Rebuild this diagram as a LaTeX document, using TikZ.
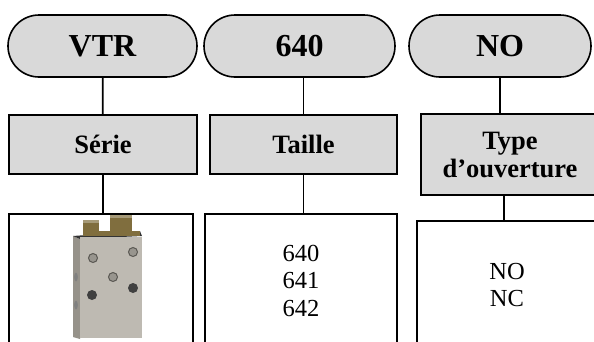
\documentclass[tikz,border=0pt]{standalone}
\usepackage{fontspec}
\setmainfont{Liberation Serif}
\usetikzlibrary{positioning,calc}
\definecolor{boxgray}{RGB}{217,217,217}
\definecolor{steel}{RGB}{190,186,178}
\definecolor{steelside}{RGB}{150,146,138}
\definecolor{brass}{RGB}{128,110,62}
\tikzset{
  pill/.style={draw, line width=1.6pt, fill=boxgray, rounded corners=31pt, minimum height=62pt, font=\fontsize{32}{35}\selectfont\bfseries},
  head/.style={draw, line width=1.6pt, fill=boxgray, minimum height=59pt, align=center, font=\fontsize{26.5}{28}\selectfont\bfseries},
  list/.style={draw, line width=1.6pt, anchor=north, align=center, minimum height=134pt, font=\fontsize{24.5}{27.5}\selectfont},
  link/.style={line width=1.8pt}
}
\begin{document}
\begin{tikzpicture}[x=1pt, y=-1pt]
    \useasboundingbox (0,0) rectangle (594,341);
    \clip (0,0) rectangle (594,341);
    \node[pill, minimum width=189pt] (vtr) at (102.5,46) {VTR};
    \node[pill, minimum width=191pt] (size) at (299.5,46) {640};
    \node[pill, minimum width=182pt] (open) at (500,46) {NO};
    \node[head, minimum width=188pt] (serie) at (103,144.5) {Série};
    \node[head, minimum width=187pt] (taille) at (303.5,144.5) {Taille};
    \node[head, minimum width=178pt, minimum height=81pt] (typ) at (510,154.5) {Type\\d’ouverture};
    \node[list, minimum width=184pt] (photo) at (101,213) {};
    \node[list, minimum width=192pt] (sizes) at (301,213) {640\\641\\642};
    \node[list, minimum width=180pt, minimum height=128pt] (states) at (507,220) {NO\\NC};
    \coordinate (drop) at ([xshift=-6pt]typ.south);
    \draw[link] (vtr) -- (serie);
    \draw[link] (serie) -- (serie |- photo.north);
    \draw[link] (taille |- size.south) -- (taille.north);
    \draw[link] (taille) -- (taille |- sizes.north);
    \draw[link] (open) -- (open |- typ.north);
    \draw[link] (drop) -- (drop |- states.north);
    \fill[steelside] (73,236) -- (80,239) -- (80,339) -- (73,337) -- cycle;
    \fill[black!80] (73,236) -- (140,231) -- (142,236) -- (80,239) -- cycle;
    \fill[brass] (84,231) rectangle (140,236);
    \fill[steel] (80,237) rectangle (142,338);
    \fill[brass] (83,220) rectangle (99,236);
    \fill[brass] (110,215) rectangle (132,233);
    \fill[brass!70!white] (83,220) rectangle (99,223);
    \fill[brass!70!white] (110,215) rectangle (132,218);
    \foreach \x/\y in {93/258, 133/252, 113/277}
        \filldraw[fill=steel!80!black, draw=steelside!60!black, line width=1pt] (\x,\y) circle (4.5);
    \foreach \x/\y in {92/295, 133/288}
        \fill[black!75] (\x,\y) circle (5);
    \foreach \y in {277, 305}
        \fill[black!50] (76,\y) ellipse (1.8 and 4.5);
\end{tikzpicture}
\end{document}
